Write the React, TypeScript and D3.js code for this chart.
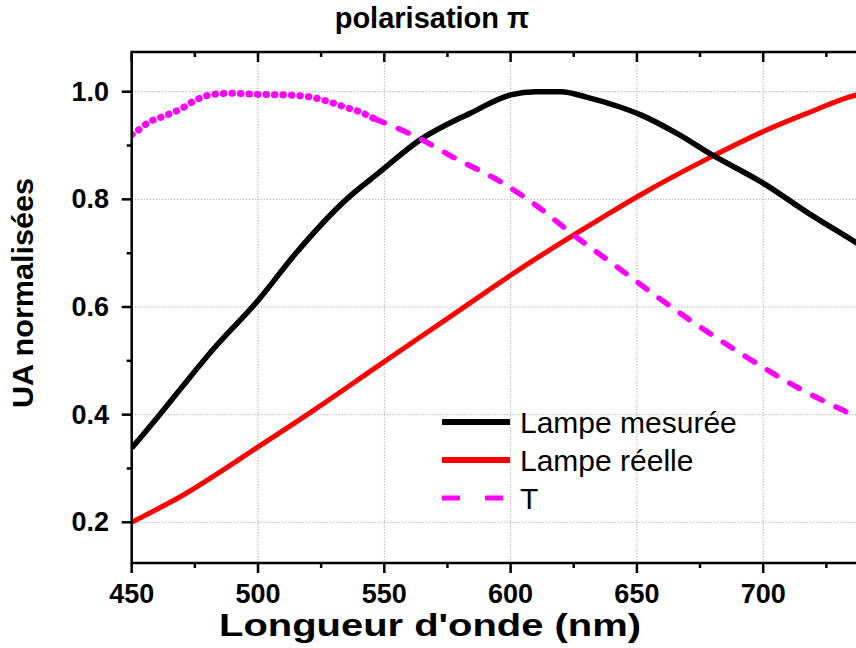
import React from "react";
import * as d3 from "d3";

const blackWl = [450, 460, 469, 482, 500, 515, 535, 548, 564, 584, 600, 610, 620, 630, 643, 652, 666, 680, 700, 718, 737, 745];
const blackVal = [0.338, 0.394, 0.446, 0.52, 0.612, 0.7, 0.8, 0.85, 0.91, 0.96, 0.994, 1.0, 1.0, 0.99, 0.972, 0.956, 0.922, 0.882, 0.83, 0.774, 0.719, 0.695];

const redWl = [450, 469, 500, 522, 548, 577, 600, 626, 639, 652, 679, 700, 718, 737, 745];
const redVal = [0.2, 0.247, 0.34, 0.408, 0.492, 0.585, 0.659, 0.737, 0.774, 0.81, 0.878, 0.926, 0.961, 0.994, 1.0];

const tWl = [450, 451, 457, 463, 469, 476, 482, 489, 500, 511, 521, 529, 534, 540, 546, 564, 577, 597, 610, 626, 642, 658, 670, 691, 713, 737, 745];
const tVal = [0.92, 0.923, 0.944, 0.955, 0.967, 0.986, 0.995, 0.997, 0.995, 0.994, 0.99, 0.98, 0.972, 0.963, 0.95, 0.913, 0.879, 0.83, 0.789, 0.73, 0.675, 0.619, 0.579, 0.514, 0.452, 0.396, 0.378];

const xMajor = [450, 500, 550, 600, 650, 700, 750];
const xLabels = [450, 500, 550, 600, 650, 700];
const xMinor = [475, 525, 575, 625, 675, 725];
const yMajor = [0.2, 0.4, 0.6, 0.8, 1.0];
const yMinor = [0.3, 0.5, 0.7, 0.9];

const legendLabels = ["Lampe mesurée", "Lampe réelle", "T"];
const title = "polarisation π";
const xTitle = "Longueur d'onde (nm)";
const yTitle = "UA normalisées";

const W = 856, H = 648;
const L = 131.7, T = 52, B = 563;
const pxPerNm = 2.526;
const R = L + 300 * pxPerNm;

export default function App() {
  const x = d3.scaleLinear().domain([450, 750]).range([L, R]);
  const y = d3.scaleLinear().domain([0.2, 1.0]).range([522.3, 91.7]);

  type P = [number, number];
  const mk = (w: number[], v: number[]): P[] => w.map((d, i) => [d, v[i]]);
  const line = d3.line<P>().x(d => x(d[0])).y(d => y(d[1])).curve(d3.curveMonotoneX);

  const black = mk(blackWl, blackVal);
  const red = mk(redWl, redVal);
  const tAll = mk(tWl, tVal);
  const tDots = tAll.filter(d => d[0] <= 546);
  const tDash = tAll.filter(d => d[0] >= 546);

  const font = "Arial, 'Liberation Sans', Helvetica, sans-serif";
  const legendY = [422, 460, 498];

  return (
    <svg width={W} height={H} style={{ position: "absolute", left: 0, top: 0, background: "#fff" }} fontFamily={font}>
      <defs>
        <clipPath id="plot">
          <rect x={L} y={T} width={R - L} height={B - T} />
        </clipPath>
      </defs>
      {/* grid */}
      <g stroke="#b4b4b4" strokeWidth={1} strokeDasharray="1.5 1.5">
        {xMajor.filter(v => v > 450).map(v => (
          <line key={"gx" + v} x1={x(v)} x2={x(v)} y1={T} y2={B} />
        ))}
        {yMajor.map(v => (
          <line key={"gy" + v} x1={L} x2={R} y1={y(v)} y2={y(v)} />
        ))}
      </g>
      {/* curves */}
      <g clipPath="url(#plot)" fill="none">
        <path d={line(red) || ""} stroke="#ff0000" strokeWidth={5} />
        <path d={line(black) || ""} stroke="#000" strokeWidth={5.5} />
        <path d={line(tDots) || ""} stroke="#ff00ff" strokeWidth={7} strokeDasharray="0.5 8" strokeLinecap="round" />
        <path d={line(tDash) || ""} stroke="#ff00ff" strokeWidth={5.5} strokeDasharray="11 15" strokeLinecap="round" />
      </g>
      {/* axes */}
      <g stroke="#000" strokeWidth={2.5}>
        <line x1={L} x2={L} y1={T - 1.25} y2={B + 1.25} />
        <line x1={L} x2={R} y1={B} y2={B} />
        <line x1={L} x2={R} y1={T} y2={T} />
        {xMajor.map(v => (
          <g key={"xt" + v}>
            <line x1={x(v)} x2={x(v)} y1={B} y2={B + 10} />
            <line x1={x(v)} x2={x(v)} y1={T} y2={T + 10} />
          </g>
        ))}
        {xMinor.map(v => (
          <g key={"xm" + v}>
            <line x1={x(v)} x2={x(v)} y1={B} y2={B + 5} />
            <line x1={x(v)} x2={x(v)} y1={T} y2={T + 5} />
          </g>
        ))}
        {yMajor.map(v => (
          <line key={"yt" + v} x1={L - 10} x2={L} y1={y(v)} y2={y(v)} />
        ))}
        {yMinor.map(v => (
          <line key={"ym" + v} x1={L - 5} x2={L} y1={y(v)} y2={y(v)} />
        ))}
      </g>
      {/* tick labels */}
      <g fontWeight="bold" fontSize={27} fill="#000">
        {xLabels.map(v => (
          <text key={"xl" + v} x={x(v)} y={603} textAnchor="middle">{v}</text>
        ))}
        {yMajor.map(v => (
          <text key={"yl" + v} x={109} y={y(v) + 9} textAnchor="end">{v.toFixed(1)}</text>
        ))}
      </g>
      {/* titles */}
      <text x={432} y={28} textAnchor="middle" fontWeight="bold" fontSize={29}>{title}</text>
      <text x={430} y={636} textAnchor="middle" fontWeight="bold" fontSize={32} textLength={422} lengthAdjust="spacingAndGlyphs">{xTitle}</text>
      <text transform="translate(33,293) rotate(-90)" textAnchor="middle" fontWeight="bold" fontSize={29} textLength={230} lengthAdjust="spacingAndGlyphs">{yTitle}</text>
      {/* legend */}
      <g>
        <line x1={442} x2={510} y1={legendY[0]} y2={legendY[0]} stroke="#000" strokeWidth={6} />
        <line x1={442} x2={510} y1={legendY[1]} y2={legendY[1]} stroke="#ff0000" strokeWidth={6} />
        <line x1={442} x2={503} y1={legendY[2]} y2={legendY[2]} stroke="#ff00ff" strokeWidth={5} strokeDasharray="18 25" />
        {legendLabels.map((s, i) => (
          <text key={s} x={520} y={legendY[i] + 11} fontSize={30} fill="#000">{s}</text>
        ))}
      </g>
    </svg>
  );
}
